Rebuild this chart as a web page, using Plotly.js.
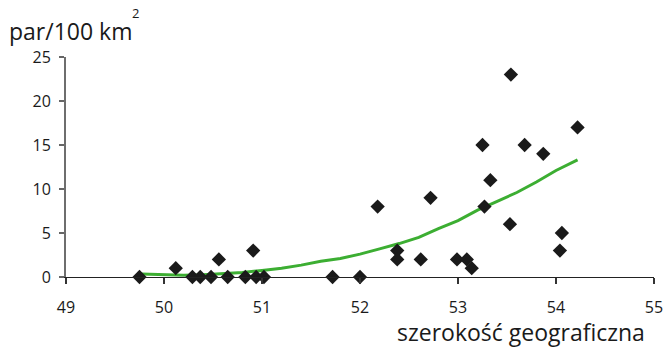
<!DOCTYPE html>
<html><head><meta charset="utf-8">
<script src="https://cdn.plot.ly/plotly-3.0.1.min.js"></script>
<style>html,body{margin:0;padding:0;background:#fff}#c{width:665px;height:347px}</style>
</head><body><div id="c"></div>
<script>
// Observations: latitude and pairs per 100 km2
const latitude = [49.75,50.12,50.29,50.37,50.48,50.56,50.65,50.83,50.91,50.94,51.02,51.72,52.0,52.18,52.38,52.38,52.62,52.72,52.99,53.09,53.14,53.25,53.27,53.33,53.54,53.53,53.68,53.87,54.04,54.06,54.22];
const density  = [0,1,0,0,0,2,0,0,3,0,0,0,0,8,3,2,2,9,2,2,1,15,8,11,23,6,15,14,3,5,17];
// Trend line
const trendX = [49.77,50.0,50.2,50.4,50.6,50.8,51.0,51.2,51.4,51.6,51.8,52.0,52.2,52.4,52.6,52.8,53.0,53.2,53.4,53.6,53.8,54.0,54.22];
const trendY = [0.35,0.3,0.2,0.25,0.35,0.5,0.75,1.0,1.35,1.8,2.1,2.6,3.2,3.8,4.5,5.5,6.4,7.6,8.6,9.6,10.8,12.1,13.3];
const xTicks = [49,50,51,52,53,54,55];
const yTicks = [0,5,10,15,20,25];

const font = "Open Sans, DejaVu Sans, sans-serif";
Plotly.newPlot('c', [
  {x: trendX, y: trendY, mode: 'lines', line: {color: '#3cae32', width: 3}, hoverinfo: 'skip', cliponaxis: false},
  {x: latitude, y: density, mode: 'markers', marker: {symbol: 'diamond', size: 11, color: '#1a1a1a'}, cliponaxis: false}
], {
  width: 665, height: 347,
  margin: {l: 65.5, r: 11, t: 57, b: 70},
  showlegend: false,
  paper_bgcolor: '#fff', plot_bgcolor: '#fff',
  font: {family: font, size: 16, color: '#1a1a1a'},
  xaxis: {range: [49, 55], tickvals: xTicks, ticktext: xTicks.map(String), showgrid: false, zeroline: false,
          showline: true, linecolor: '#222', linewidth: 1.3, ticks: 'outside', ticklen: 6, tickcolor: '#333', tickwidth: 1.3,
          ticklabelstandoff: 9, tickfont: {size: 16}},
  yaxis: {range: [0, 25], tickvals: yTicks, ticktext: yTicks.map(String), showgrid: false, zeroline: false,
          showline: true, linecolor: '#6e6e6e', linewidth: 2, ticks: 'outside', ticklen: 5, tickcolor: '#666', tickwidth: 1.3,
          ticklabelstandoff: 5, tickfont: {size: 16}},
  annotations: [
    {xref: 'paper', yref: 'paper', x: -0.101, y: 1.037, xanchor: 'left', yanchor: 'bottom', showarrow: false,
     text: 'par/100 km', font: {size: 23, family: font, color: '#1a1a1a'}},
    {xref: 'paper', yref: 'paper', x: 0.108, y: 1.15, xanchor: 'left', yanchor: 'bottom', showarrow: false,
     text: '2', font: {size: 13, family: font, color: '#1a1a1a'}},
    {xref: 'paper', yref: 'paper', x: 0.9877, y: -0.33, xanchor: 'right', yanchor: 'bottom', showarrow: false,
     text: 'szerokość geograficzna', font: {size: 23, family: font, color: '#1a1a1a'}}
  ]
}, {displayModeBar: false, staticPlot: true});
</script></body></html>
